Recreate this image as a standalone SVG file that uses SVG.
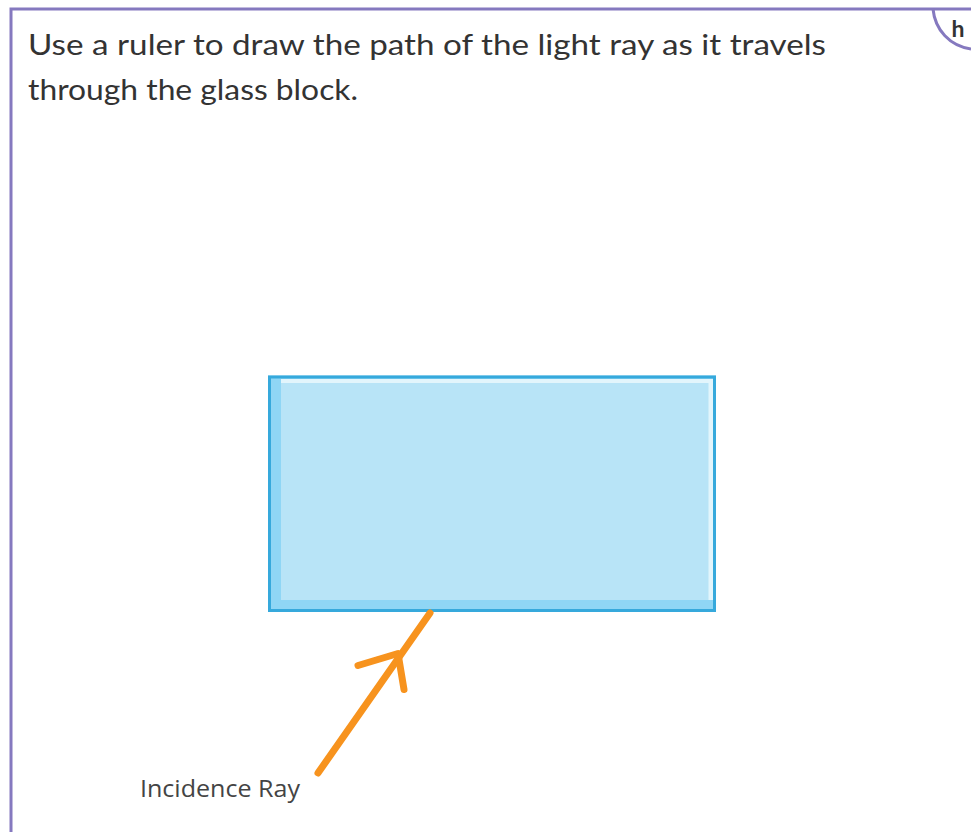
<svg xmlns="http://www.w3.org/2000/svg" width="971" height="832" viewBox="0 0 971 832">
<style>
.frame{fill:none;stroke:#8579bf;stroke-width:3}
.title{font-family:"Lato","Open Sans","Liberation Sans",sans-serif;font-size:29px;fill:#333}
.label{font-family:"Open Sans","Liberation Sans",sans-serif;font-size:23px;fill:#444}
.ray{fill:none;stroke:#f7931e;stroke-width:7;stroke-linecap:round;stroke-linejoin:round}
</style>
<rect width="971" height="832" fill="#fff"/>
<g id="frame">
<path class="frame" d="M11 832 V9 H971"/>
<path class="frame" d="M933 9 C935 30 950 46 971 49"/>
<text x="958" y="37" text-anchor="middle" font-family="Lato,'Liberation Sans',sans-serif" font-size="23" font-weight="bold" fill="#333">h</text>
</g>
<g id="title">
<text class="title" x="28" y="55" textLength="798" lengthAdjust="spacingAndGlyphs">Use a ruler to draw the path of the light ray as it travels</text>
<text class="title" x="28" y="100" textLength="330" lengthAdjust="spacingAndGlyphs">through the glass block.</text>
</g>
<g id="glass-block">
<rect x="268" y="375.5" width="448" height="236.5" fill="#8fd6f5"/>
<rect x="281" y="379" width="432" height="221" fill="#b8e4f7"/>
<rect x="281" y="379" width="432" height="4" fill="#e2f5fc"/>
<rect x="708.5" y="383" width="4.5" height="217" fill="#e2f5fc"/>
<rect x="269.5" y="377" width="445" height="233.5" fill="none" stroke="#36a9dc" stroke-width="3"/>
</g>
<g id="connectors">
<path class="ray" d="M318 773 L430 613"/>
<path class="ray" d="M358 665.5 L398 653.5 L404 689.5"/>
</g>
<g id="incidence-label">
<text class="label" x="140" y="797" textLength="160" lengthAdjust="spacingAndGlyphs">Incidence Ray</text>
</g>
</svg>
